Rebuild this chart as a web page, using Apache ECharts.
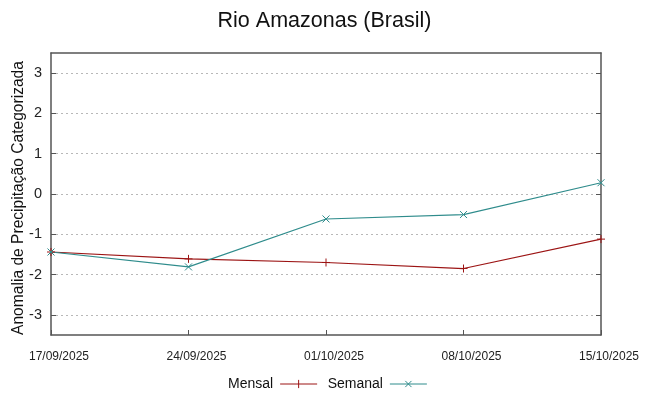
<!DOCTYPE html>
<html>
<head>
<meta charset="utf-8">
<script src="https://cdn.jsdelivr.net/npm/echarts@6/dist/echarts.min.js"></script>
<style>html,body{margin:0;padding:0;background:#fff}#c{width:649px;height:396px}</style>
</head>
<body>
<div id="c"></div>
<script>
const categories = ['17/09/2025', '24/09/2025', '01/10/2025', '08/10/2025', '15/10/2025'];
const mensal = [-1.44, -1.61, -1.70, -1.85, -1.12];
const semanal = [-1.44, -1.81, -0.62, -0.51, 0.28];
const yTicks = [-3, -2, -1, 0, 1, 2, 3];

const FONT = '"Liberation Sans", Arial, sans-serif';
const RED = '#9c1414';
const TEAL = '#2f8c8c';
const PLUS = 'path://M0,5L10,5M5,0L5,10';
const CROSS = 'path://M0,0L10,10M0,10L10,0';

const chart = echarts.init(document.getElementById('c'), null, {renderer: 'canvas'});
chart.setOption({
  animation: false,
  backgroundColor: '#fff',
  title: {
    text: 'Rio Amazonas (Brasil)',
    left: 'center', top: 5,
    textStyle: {fontFamily: FONT, fontSize: 21.5, fontWeight: 'normal', color: '#111'}
  },
  legend: {
    top: 372, left: 223,
    align: 'right',
    itemGap: 8,
    itemWidth: 37, itemHeight: 9,
    textStyle: {fontFamily: FONT, fontSize: 14, color: '#111', padding: [0, 2, 0, 0]},
    data: [
      {name: 'Mensal', icon: 'path://M0,5L36,5M18,1L18,9', itemStyle: {color: 'none', borderColor: RED, borderWidth: 1}},
      {name: 'Semanal', icon: 'path://M0,5L36,5M15,2L21,8M15,8L21,2', itemStyle: {color: 'none', borderColor: TEAL, borderWidth: 1}}
    ]
  },
  grid: {left: 51, right: 48, top: 53, bottom: 61, containLabel: false, outerBoundsMode: 'none'},
  xAxis: [{
    type: 'category', data: categories, boundaryGap: false,
    axisLine: {show: true, onZero: false, lineStyle: {color: '#555', width: 1.5}},
    axisTick: {show: true, inside: true, length: 5, lineStyle: {color: '#555'}},
    axisLabel: {fontFamily: FONT, fontSize: 12, color: '#222', margin: 16, padding: [0, 0, 0, 16], showMinLabel: true, showMaxLabel: true, interval: 0},
    splitLine: {show: false}
  }, {
    type: 'category', data: categories, boundaryGap: false, position: 'top',
    axisLine: {show: true, onZero: false, lineStyle: {color: '#555', width: 1.5}},
    axisTick: {show: false}, axisLabel: {show: false}, splitLine: {show: false}
  }],
  yAxis: [{
    type: 'value', min: -3.5, max: 3.5,
    name: 'Anomalia de Precipitação Categorizada',
    nameLocation: 'middle', nameGap: 24, nameRotate: 90, nameMoveOverlap: false,
    nameTextStyle: {fontFamily: FONT, fontSize: 15.6, color: '#111', padding: [0, 8, 0, 0]},
    axisLine: {show: true, onZero: false, lineStyle: {color: '#555', width: 1.5}},
    axisTick: {show: true, inside: true, length: 5, customValues: yTicks, lineStyle: {color: '#555'}},
    axisLabel: {fontFamily: FONT, fontSize: 14.5, color: '#222', margin: 9, customValues: yTicks},
    splitLine: {show: true, lineStyle: {color: '#b8b8b8', type: [2, 3], width: 1}}
  }, {
    type: 'value', min: -3.5, max: 3.5, position: 'right',
    axisLine: {show: true, onZero: false, lineStyle: {color: '#555', width: 1.5}},
    axisTick: {show: true, inside: true, length: 5, customValues: yTicks, lineStyle: {color: '#555'}},
    axisLabel: {show: false, customValues: yTicks},
    splitLine: {show: false}
  }],
  series: [{
    name: 'Mensal', type: 'line', data: mensal,
    symbol: PLUS, symbolSize: 8,
    lineStyle: {color: RED, width: 1.2},
    itemStyle: {color: 'none', borderColor: RED, borderWidth: 1}
  }, {
    name: 'Semanal', type: 'line', data: semanal,
    symbol: CROSS, symbolSize: 7,
    lineStyle: {color: TEAL, width: 1.2},
    itemStyle: {color: 'none', borderColor: TEAL, borderWidth: 1}
  }]
});
</script>
</body>
</html>
